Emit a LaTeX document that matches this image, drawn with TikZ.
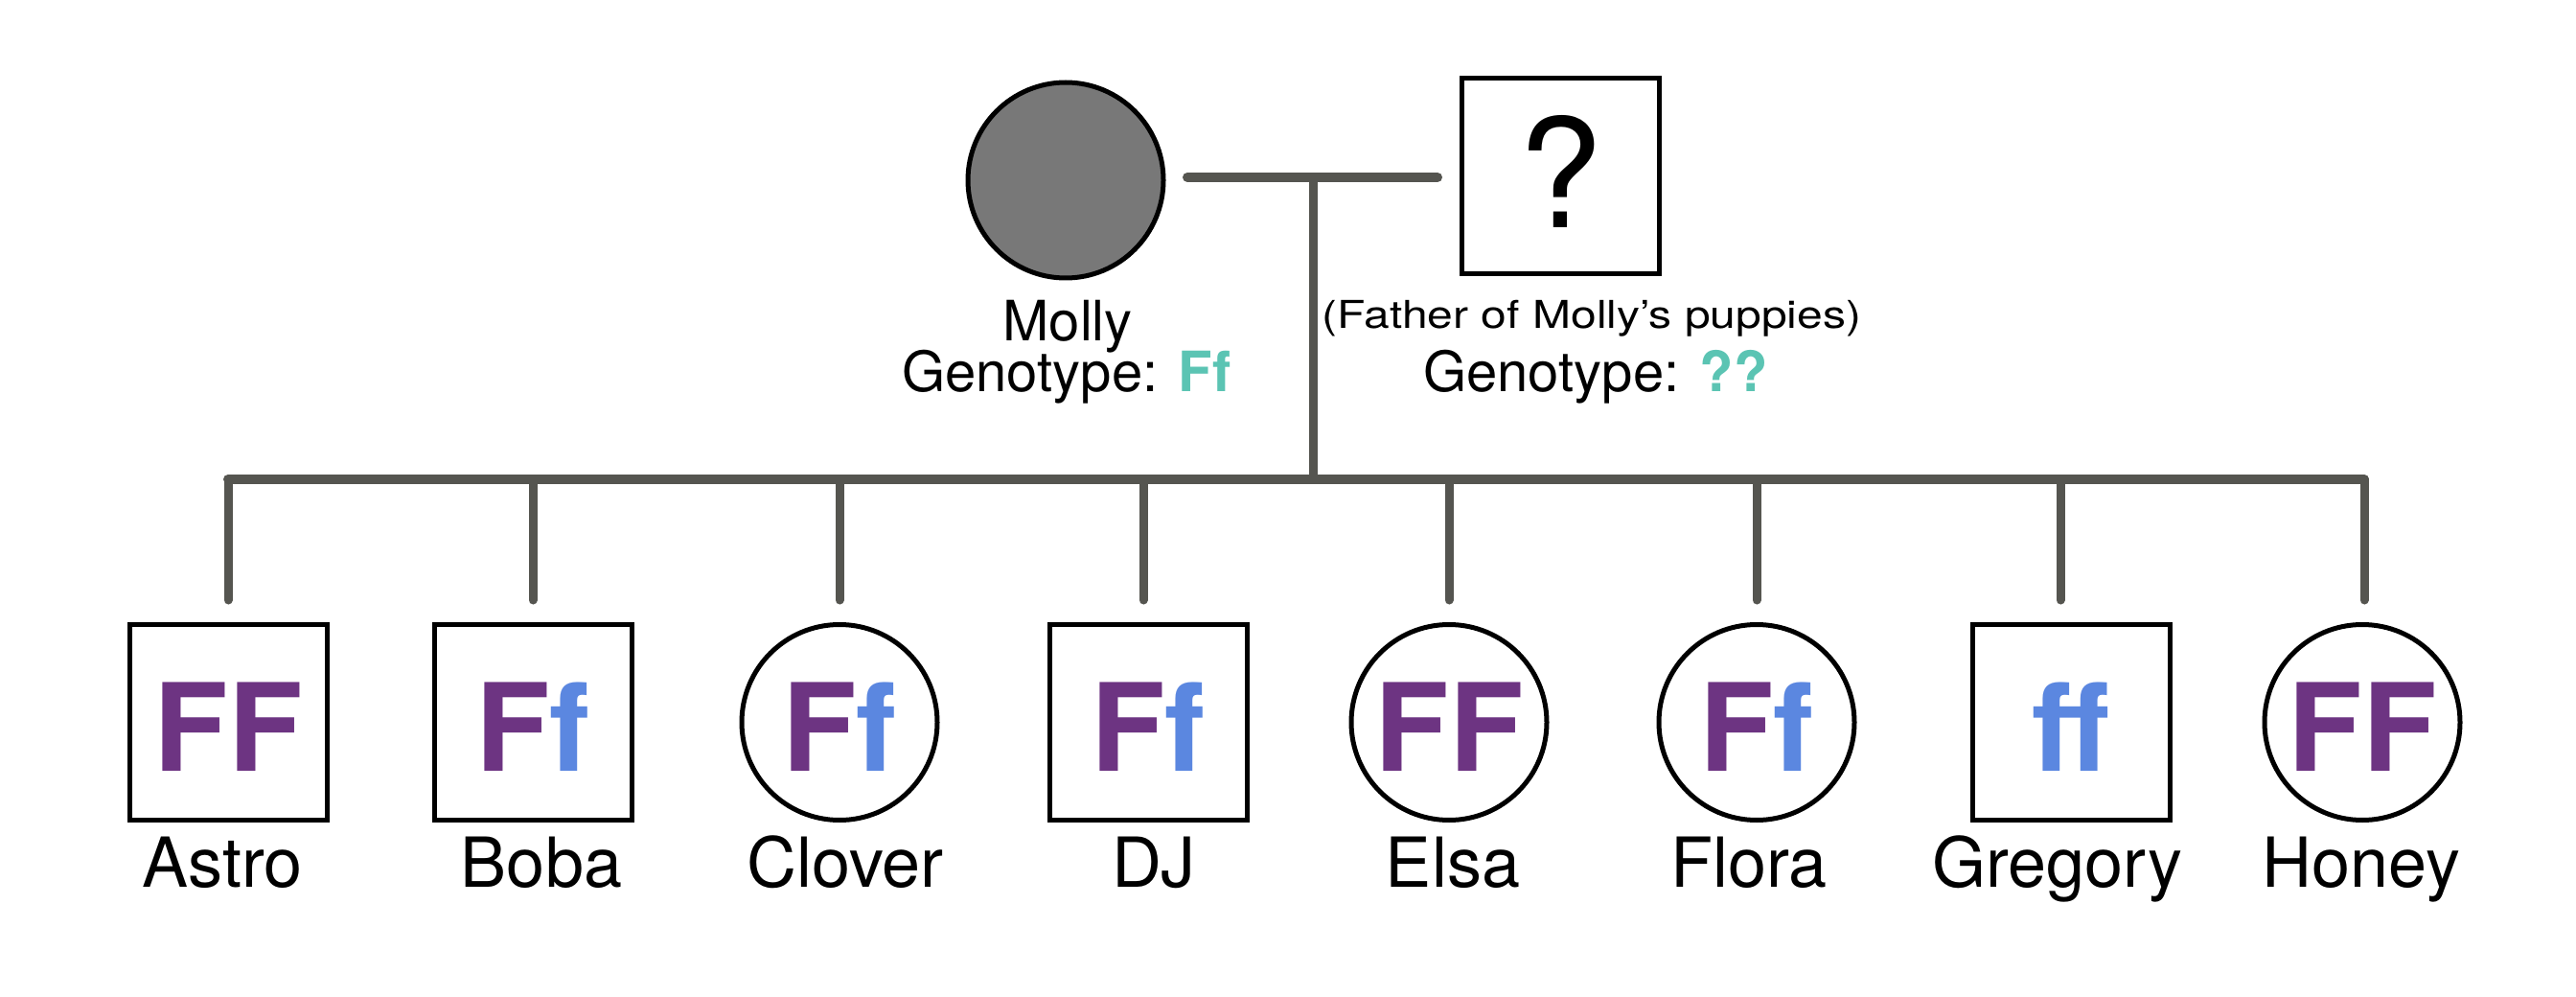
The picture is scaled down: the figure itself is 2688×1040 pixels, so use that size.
\documentclass[tikz,border=0pt]{standalone}
\usepackage{fontspec}
\setmainfont{TeX Gyre Heros}
\newfontfamily\widefont[FakeStretch=1.2]{TeX Gyre Heros}
\definecolor{purp}{HTML}{6D3482}
\definecolor{blu}{HTML}{5B87E0}
\definecolor{tealg}{HTML}{5BC4B3}
\definecolor{linegray}{HTML}{555550}
\definecolor{mollygray}{HTML}{787878}
\begin{document}
\begin{tikzpicture}[x=1pt,y=-1pt,
  male/.style={draw=black,line width=5pt,minimum width=206pt,minimum height=204pt,inner sep=0pt,fill=white},
  female/.style={circle,draw=black,line width=5pt,minimum size=204pt,inner sep=0pt,fill=white},
  geno/.style={font=\fontsize{127}{127}\selectfont\bfseries,anchor=base,inner sep=0pt},
  petname/.style={font=\fontsize{72}{80}\selectfont,anchor=base,inner sep=0pt},
  lab/.style={font=\fontsize{58}{64}\selectfont,anchor=base,inner sep=0pt},
  link/.style={draw=linegray,line width=10pt,line cap=round},
  dropline/.style={draw=linegray,line width=9pt,line cap=round}]
\useasboundingbox[fill=white] (0,0) rectangle (2688,1040);

% parents
\node[female,fill=mollygray] (molly) at (1112,188) {};
\node[male] (father) at (1628.5,184) {};
\node[font=\fontsize{158}{158}\selectfont,anchor=base,inner sep=0pt] (qmark) at (1628,238) {?};
\node[lab,text depth=0pt] (mollyname) at (1114,356) {Molly};
\node[lab] (mollygeno) at (1113,409) {Genotype: {\bfseries\color{tealg}Ff}};
\node[font=\fontsize{40}{44}\selectfont\widefont,anchor=base,inner sep=0pt,text depth=0pt] (fatherdesc) at (1661,343) {(Father of Molly’s puppies)};
\node[lab] (fathergeno) at (1665,409) {Genotype: {\bfseries\color{tealg}??}};

% connectors
\coordinate (mL) at (1239,185);
\coordinate (mR) at (1500,185);
\coordinate (mid) at (1370,185);
\coordinate (sib) at (1370,500);
\draw[link] (mL) -- (mR);
\draw[dropline] (mid) -- (sib);

% children
\node[male]   (astro)   at (238,753.5) {};
\node[male]   (boba)    at (556,753.5) {};
\node[female] (clover)  at (876,753.5) {};
\node[male]   (dj)      at (1198,753.5) {};
\node[female] (elsa)    at (1512,753.5) {};
\node[female] (flora)   at (1833,753.5) {};
\node[male]   (gregory) at (2161,753.5) {};
\node[female] (honey)   at (2465,753.5) {};

\node[geno] (gA) at (238,804)  {\color{purp}FF};
\node[geno] (gB) at (556,804)  {{\color{purp}F}{\color{blu}f}};
\node[geno] (gC) at (876,804)  {{\color{purp}F}{\color{blu}f}};
\node[geno] (gD) at (1198,804) {{\color{purp}F}{\color{blu}f}};
\node[geno] (gE) at (1512,804) {\color{purp}FF};
\node[geno] (gF) at (1833,804) {{\color{purp}F}{\color{blu}f}};
\node[geno] (gG) at (2161,804) {\color{blu}ff};
\node[geno] (gH) at (2465,804) {\color{purp}FF};

\node[petname] (nA) at (232,925)  {Astro};
\node[petname] (nB) at (565,925)  {Boba};
\node[petname] (nC) at (882,925)  {Clover};
\node[petname] (nD) at (1204,925) {DJ};
\node[petname] (nE) at (1516,925) {Elsa};
\node[petname] (nF) at (1825,925) {Flora};
\node[petname] (nG) at (2147,925) {Gregory};
\node[petname] (nH) at (2464,925) {Honey};

% sibship line and drops
\foreach \i/\x in {1/238,2/556,3/876,4/1193,5/1512,6/1833,7/2150,8/2467}{
  \coordinate (s\i) at (\x,500);
  \coordinate (e\i) at (\x,626);
}
\draw[link] (s1) -- (s8);
\foreach \i in {1,...,8}{\draw[dropline] (s\i) -- (e\i);}
\end{tikzpicture}
\end{document}
